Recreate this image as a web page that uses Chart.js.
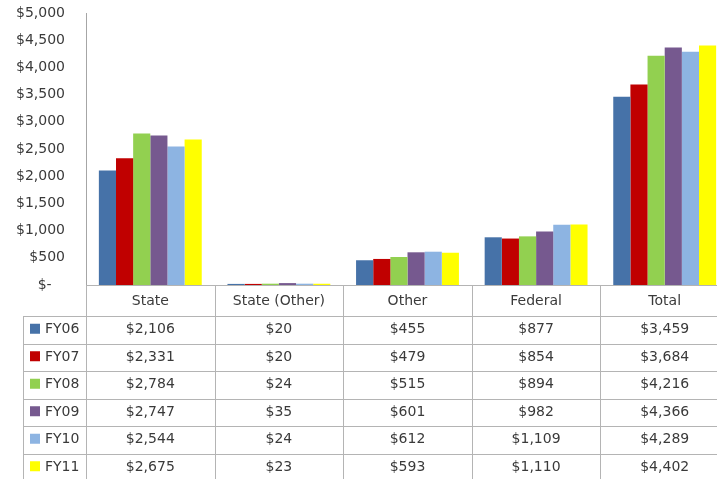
<!DOCTYPE html>
<html>
<head>
<meta charset="utf-8">
<script src="https://cdn.jsdelivr.net/npm/chart.js@4"></script>
<style>
    html, body { margin: 0; padding: 0; background: #fff; overflow: hidden; }
    #wrap { width: 729px; height: 479px; }
</style>
</head>
<body>
<div id="wrap"><canvas id="chart" width="729" height="479"></canvas></div>
<script>
const categories = ["State", "State (Other)", "Other", "Federal", "Total"];
const years = ["FY06", "FY07", "FY08", "FY09", "FY10", "FY11"];
const fy06 = [2106, 20, 455, 877, 3459];
const fy07 = [2331, 20, 479, 854, 3684];
const fy08 = [2784, 24, 515, 894, 4216];
const fy09 = [2747, 35, 601, 982, 4366];
const fy10 = [2544, 24, 612, 1109, 4289];
const fy11 = [2675, 23, 593, 1110, 4402];
const colors = ["#4672a8", "#c00000", "#92d050", "#76598f", "#8db4e2", "#ffff00"];

const yMin = 0, yMax = 5000, yStep = 500;

const FONT = "'DejaVu Sans', sans-serif";
const TEXT = "#3a3a3a";
const LINE = "#b4b4b4";
const ROW_H = 27.5;
const HEAD_H = 31;
const TABLE_LEFT = 23;

const money = v => v === 0 ? "$-   " : "$" + v.toLocaleString("en-US");

const series = [fy06, fy07, fy08, fy09, fy10, fy11];

// data table under the bars, columns follow the category scale
const dataTable = {
    id: "dataTable",
    afterDraw(chart) {
        const ctx = chart.ctx;
        const x = chart.scales.x;
        const area = chart.chartArea;
        const centers = categories.map((c, i) => x.getPixelForValue(i));
        const edges = [area.left];
        for (let i = 0; i < centers.length - 1; i++) edges.push((centers[i] + centers[i + 1]) / 2);
        edges.push(area.right);

        const top = area.bottom;
        const bodyTop = top + HEAD_H;
        const bottom = bodyTop + ROW_H * years.length;

        ctx.save();
        ctx.strokeStyle = LINE;
        ctx.lineWidth = 1;
        ctx.beginPath();
        // vertical lines
        edges.forEach(e => {
            const ex = Math.round(e) + 0.5;
            ctx.moveTo(ex, top);
            ctx.lineTo(ex, bottom);
        });
        ctx.moveTo(TABLE_LEFT + 0.5, bodyTop);
        ctx.lineTo(TABLE_LEFT + 0.5, bottom);
        // horizontal lines
        for (let r = 0; r <= years.length; r++) {
            const y = Math.round(bodyTop + r * ROW_H) + 0.5;
            ctx.moveTo(TABLE_LEFT, y);
            ctx.lineTo(area.right, y);
        }
        ctx.stroke();

        ctx.font = "14px " + FONT;
        ctx.textBaseline = "middle";
        years.forEach((yr, r) => {
            const cy = bodyTop + r * ROW_H + ROW_H / 2;
            ctx.fillStyle = colors[r];
            ctx.fillRect(30, cy - 6, 10, 10);
            ctx.fillStyle = TEXT;
            ctx.textAlign = "left";
            ctx.fillText(yr, 45, cy);
            ctx.textAlign = "center";
            series[r].forEach((v, c) => {
                ctx.fillText(money(v), centers[c], cy);
            });
        });
        ctx.restore();
    }
};

new Chart(document.getElementById("chart"), {
    type: "bar",
    data: {
        labels: categories,
        datasets: years.map((yr, i) => ({
            label: yr,
            data: series[i],
            backgroundColor: colors[i],
            categoryPercentage: 0.8,
            barPercentage: 1,
        }))
    },
    options: {
        responsive: false,
        animation: false,
        layout: { padding: { top: 13, right: 0, left: 0, bottom: 0 } },
        plugins: { legend: { display: false }, tooltip: { enabled: false } },
        scales: {
            x: {
                grid: { display: false, drawTicks: false },
                border: { display: true, color: LINE },
                ticks: { color: TEXT, font: { family: FONT, size: 14 }, padding: 8, maxRotation: 0 },
                afterFit: s => { s.height = 194; s.paddingLeft = 0; s.paddingRight = 0; }
            },
            y: {
                min: yMin,
                max: yMax,
                grid: { display: false, drawTicks: false },
                border: { display: true, color: "#a6a6a6" },
                ticks: {
                    stepSize: yStep,
                    color: TEXT,
                    font: { family: FONT, size: 14 },
                    padding: 21,
                    callback: v => money(v)
                },
                afterFit: s => { s.width = 86; s.paddingTop = 0; s.paddingBottom = 0; }
            }
        }
    },
    plugins: [dataTable]
});
</script>
</body>
</html>
